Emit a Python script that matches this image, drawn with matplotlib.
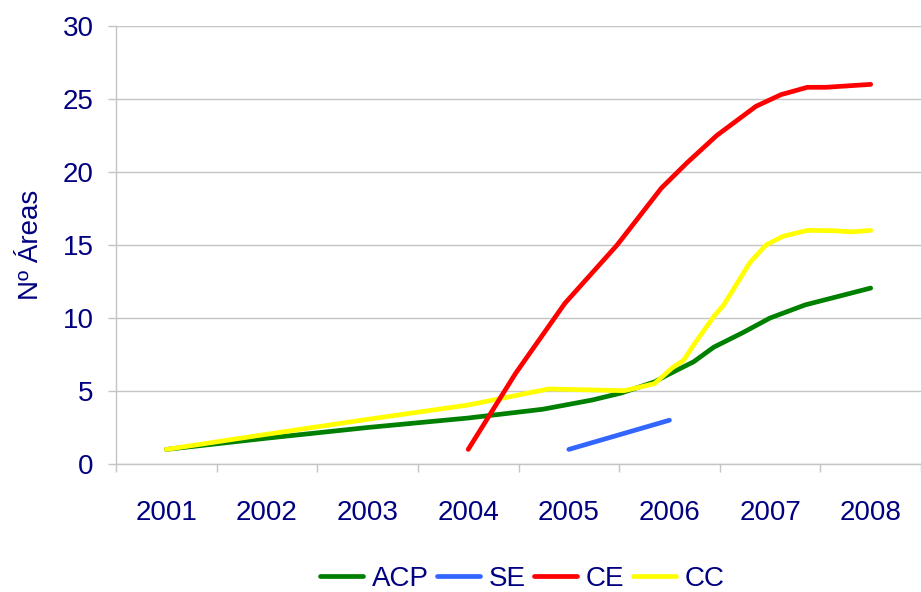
import matplotlib.pyplot as plt

plt.rcParams["font.family"] = ["Liberation Sans", "DejaVu Sans"]

# Category labels
years = [2001, 2002, 2003, 2004, 2005, 2006, 2007, 2008]

# Values (x in fractional years)
acp_x = [2001, 2002, 2003, 2004, 2004.74, 2005.23, 2005.52, 2005.85, 2005.98,
         2006.24, 2006.44, 2006.73, 2007.0, 2007.35, 2007.69, 2008.0]
acp_y = [1, 1.77, 2.5, 3.15, 3.75, 4.38, 4.86, 5.62, 6.1,
         7.0, 8.0, 9.0, 10.0, 10.9, 11.5, 12.05]

se_x = [2005, 2006]
se_y = [1, 3]

ce_x = [2004.0, 2004.47, 2004.96, 2005.48, 2005.92, 2006.17, 2006.47,
        2006.86, 2007.11, 2007.37, 2007.55, 2008.0]
ce_y = [1, 6.2, 11.0, 15.0, 18.9, 20.6, 22.5, 24.5, 25.3, 25.8, 25.8, 26.0]

cc_x = [2001, 2002, 2003, 2004.0, 2004.8, 2005.55, 2005.85, 2006.03, 2006.14,
        2006.24, 2006.44, 2006.54, 2006.8, 2006.96, 2007.13, 2007.37,
        2007.62, 2007.82, 2008.0]
cc_y = [1, 2.04, 3.06, 4.04, 5.14, 5.02, 5.5, 6.6, 7.1,
        8.15, 10.1, 10.9, 13.8, 15.0, 15.6, 16.0,
        15.98, 15.9, 16.0]

navy = "#000080"
grid_col = "#c4c4c4"

fig = plt.figure(figsize=(9.21, 5.92), dpi=100)
ax = fig.add_axes([0.126, 0.2162, 0.874, 0.7399])

lw = 3.4
ax.plot(acp_x, acp_y, color="#008000", lw=lw, label="ACP", solid_capstyle="round", zorder=3)
ax.plot(se_x, se_y, color="#3366ff", lw=lw, label="SE", solid_capstyle="round", zorder=3)
ax.plot(ce_x, ce_y, color="#ff0000", lw=lw, label="CE", solid_capstyle="round", zorder=5)
ax.plot(cc_x, cc_y, color="#ffff00", lw=lw, label="CC", solid_capstyle="round", zorder=4)

ax.set_xlim(2000.5, 2008.415)
ax.set_ylim(0, 30)
ax.set_yticks(range(0, 31, 5))

# boundary ticks (major) and centred labels (minor)
ax.set_xticks([y - 0.5 for y in years] + [2008.5])
ax.set_xticklabels([])
ax.set_xticks(years, minor=True)
ax.set_xticklabels([str(y) for y in years], minor=True)

ax.tick_params(axis="x", which="major", length=6, color=grid_col, width=1)
ax.tick_params(axis="x", which="minor", length=0, pad=26, labelsize=20, labelcolor=navy)
ax.tick_params(axis="y", length=6, color=grid_col, width=1, pad=10,
               labelsize=20, labelcolor=navy)

ax.grid(axis="y", color=grid_col, lw=1)
ax.set_axisbelow(True)
for s in ["top", "right"]:
    ax.spines[s].set_visible(False)
for s in ["left", "bottom"]:
    ax.spines[s].set_color(grid_col)
    ax.spines[s].set_linewidth(1)

ax.set_ylabel("Nº Áreas", fontsize=20, color=navy)
ax.yaxis.set_label_coords(-0.09, 0.5)

fig.legend(loc="center", bbox_to_anchor=(0.567, 0.022), ncol=4, frameon=False,
           fontsize=20, labelcolor=navy, handlelength=1.55, handletextpad=0.32,
           columnspacing=0.3, borderaxespad=0)

fig.savefig("out.png", dpi=100)
